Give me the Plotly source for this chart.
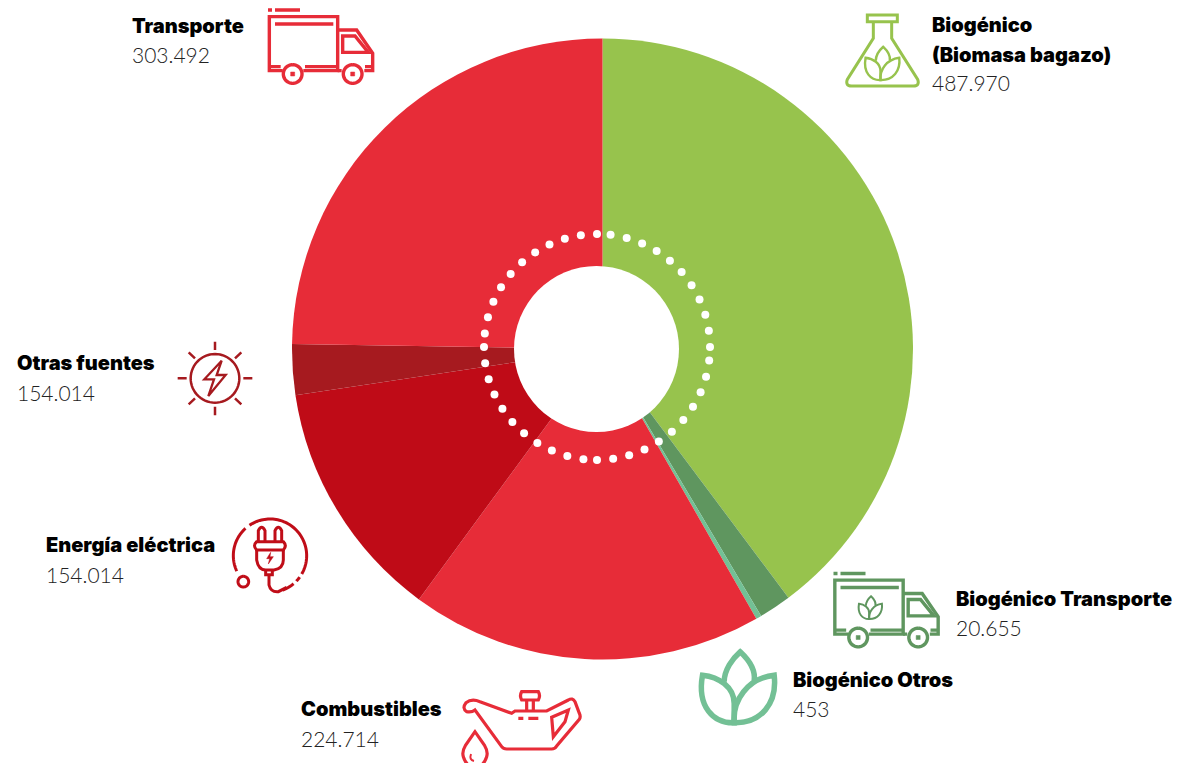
import re
import numpy as np
import plotly.graph_objects as go

# Data
categories = ['Biogénico (Biomasa bagazo)', 'Biogénico Transporte', 'Biogénico Otros',
              'Combustibles', 'Energía eléctrica', 'Otras fuentes', 'Transporte']
# slice sizes as drawn in the picture (Otros and Otras fuentes don't follow their printed labels)
slice_values = [487970, 20655, 3500, 224714, 154014, 32300, 303492]
slice_colors = ['#97C34D', '#5F965F', '#73C095', '#E72C38', '#BF0B17', '#A61A1F', '#E72C38']

label_titles = ['Transporte', 'Biogénico', '(Biomasa bagazo)', 'Otras fuentes', 'Energía eléctrica',
                'Combustibles', 'Biogénico Transporte', 'Biogénico Otros']
label_numbers = ['303.492', '487.970', '154.014', '154.014', '224.714', '20.655', '453']

W, H = 1193, 763
RED, DARK_RED, DARKEST = '#E72C38', '#C00D18', '#A61A1F'
GREEN, DARK_GREEN, TEAL = '#97C34D', '#5F965F', '#73C095'

fig = go.Figure()

fig.add_trace(go.Pie(
    labels=categories, values=slice_values, sort=False, direction='clockwise', rotation=0,
    marker=dict(colors=slice_colors, line=dict(width=0)),
    textinfo='none', hoverinfo='label+value', showlegend=False,
    domain=dict(x=[(602.5 - 310.5) / W, (602.5 + 310.5) / W], y=[1 - (349 + 311) / H, 1 - (349 - 311) / H]),
))
# empty trace so the hidden pixel axes exist for the shapes
fig.add_trace(go.Scatter(x=[], y=[], showlegend=False, hoverinfo='skip'))

shapes = []


def tf(path, ox, oy, s=1 / 3):
    nums = iter(range(100000))

    def rep(m):
        i = next(nums)
        v = float(m.group(0))
        return f'{ox + v * s:.2f}' if i % 2 == 0 else f'{oy + v * s:.2f}'
    return re.sub(r'-?\d+\.?\d*', rep, path)


def arc(cx, cy, r, a0=0, a1=360, first='M'):
    a = np.radians(np.linspace(a0, a1, 61))
    pts = [f'{cx + r * np.sin(t):.2f},{cy - r * np.cos(t):.2f}' for t in a]
    return f'{first}{pts[0]} ' + ' '.join('L' + p for p in pts[1:])


def add(path, ox, oy, color, width=3.0, fill=None, s=1 / 3):
    shapes.append(dict(type='path', xref='x', yref='y', path=tf(path, ox, oy, s),
                       line=dict(color=color, width=width),
                       fillcolor=fill if fill else 'rgba(0,0,0,0)'))


def truck(ox, oy, color):
    add('M444,30 L456,30 M465,30 L540,30', ox, oy, color, 3.6)
    add('M488,212 L448,212 L448,50 L653,50 L653,212 L550,212', ox, oy, color, 3.4)
    add('M448,200 L482,200 M555,200 L653,200 M465,72 L640,72', ox, oy, color, 3.4)
    add('M653,90 L710,90 L758,160 L758,212 L733,212 M735,200 L758,200 M653,212 L665,212', ox, oy, color, 3.4)
    add('M668,108 L705,108 L745,157 L668,157 Z', ox, oy, color, 3.4)
    for cx in [518, 698]:
        add(arc(cx, 222, 28), ox, oy, color, 3.4)
        add(f'M{cx - 6},216 L{cx + 6},216 L{cx + 6},228 L{cx - 6},228 Z', ox, oy, color, 0.5, fill=color)


def leaf(cx, cy, s, color, width):
    # drawn around the point where the three petals meet
    k = s / 3
    add('M-108,-40 C-60,-35 -13,-5 -13,45 L-13,103 C-75,105 -125,55 -108,-40 Z', cx, cy, color, width, s=k)
    add('M107,-40 C117,45 67,105 -13,103 C-18,35 27,-30 107,-40 Z', cx, cy, color, width, s=k)
    add('M-43,-20 C-43,-55 -18,-90 5,-110 C32,-85 52,-55 47,-22', cx, cy, color, width, s=k)


# Transporte truck
truck(120, 0, RED)
# Biogénico Transporte truck (same drawing, moved)
truck(685.5, 563.5, DARK_GREEN)
leaf(870.5, 608, 0.32, DARK_GREEN, 2)

# flask
add('M112,45 L202,45 L202,65 L112,65 Z', 830, 0, GREEN, 3)
add('M130,65 L130,115 L52,238 Q45,258 65,258 L250,258 Q270,258 263,238 L185,115 L185,65', 830, 0, GREEN, 3)
leaf(882.5, 64, 0.47, GREEN, 2.4)

# big leaf
leaf(738.5, 688.5, 1, TEAL, 5.5)

# sun with bolt
add(arc(645, 115, 73), 0, 340, DARKEST, 2.5)
add('M645,5 L645,30 M645,200 L645,226 M533,115 L560,115 M730,115 L757,115 '
    'M566,37 L585,55 M724,37 L705,55 M566,193 L585,175 M724,193 L705,175', 0, 340, DARKEST, 2.5)
add('M665,62 L613,118 L642,118 L625,168 L677,105 L650,105 Z', 0, 340, DARKEST, 2.3)

# plug
add(arc(810, 647, 110, 245, 318), 0, 340, DARK_RED, 3)
add(arc(810, 647, 110, 326, 480), 0, 340, DARK_RED, 3)
add(arc(810, 647, 110, 486, 494), 0, 340, DARK_RED, 3)
add(arc(810, 647, 110, 500, 520), 0, 340, DARK_RED, 3)
add(arc(730, 725, 16), 0, 340, DARK_RED, 3)
add('M775,605 L775,572 Q785,552 795,572 L795,605 M825,605 L825,572 Q835,552 845,572 L845,605', 0, 340, DARK_RED, 3)
add('M770,605 L850,605 Q862,617 850,630 L770,630 Q757,617 770,605 Z', 0, 340, DARK_RED, 3)
add('M770,630 L770,660 Q775,690 797,690 L822,690 Q850,685 850,660 L850,630', 0, 340, DARK_RED, 3)
add('M797,690 L797,704 L817,704 L817,690 M807,704 L807,735 Q812,757 835,755 L860,742', 0, 340, DARK_RED, 3)
add('M812,637 L800,656 L809,656 L805,672 L820,650 L810,650 Z', 0, 340, DARK_RED, 0.5, fill=DARK_RED)

# oil can
add('M665,100 L570,65 Q545,55 528,68 Q515,85 530,95 Q545,98 555,90 L635,200 Q640,207 650,207 L785,207 '
    'Q795,207 800,198 L868,118 Q873,110 868,100 L855,65 Q848,52 835,60 L770,93 L675,93 Z', 290, 680, RED, 3.2)
add('M785,112 L835,90 L825,125 L790,170 Z', 290, 680, RED, 3.2)
add('M695,35 L745,35 Q752,47 745,60 L695,60 Q688,47 695,35 Z', 290, 680, RED, 3.2)
add('M710,60 L710,93 M730,60 L730,93 M685,115 L700,115 M715,115 L745,115', 290, 680, RED, 3.2)
add('M555,155 L527,195 Q515,215 520,230 Q530,262 555,262 Q580,262 590,230 Q595,215 583,195 Z', 290, 680, RED, 3.2)
add('M543,222 Q537,240 552,243', 290, 680, RED, 2)

# hole sits a little left of the pie centre, like the reference
shapes.append(dict(type='circle', xref='x', yref='y', x0=514, x1=679, y0=266, y1=432,
                   fillcolor='white', line=dict(width=0)))

# ring of white dots, 11 per quadrant
dot_angles = []
for q in [0, 90, 180, 270]:
    dot_angles.append(q)
    dot_angles += [q + 6.9 + 8.32 * k for k in range(10)]
for a in dot_angles:
    cx = 597 + 113 * np.sin(np.radians(a))
    cy = 347 - 113 * np.cos(np.radians(a))
    shapes.append(dict(type='circle', xref='x', yref='y', x0=cx - 4, x1=cx + 4, y0=cy - 4, y1=cy + 4,
                       fillcolor='white', line=dict(width=0)))

# text
title_pos = [(129.5, 25.5), (929.5, 24.5), (929.5, 54.5), (14.5, 362.5), (43.5, 544.5), (298.5, 708.5),
             (953.5, 598.5), (790.5, 679.5)]
number_pos = [(129.5, 54), (929.5, 82), (14.5, 392), (43.5, 574), (298.5, 738), (953.5, 627), (790.5, 708)]
annotations = []
for t, (x, y) in zip(label_titles, title_pos):
    annotations.append(dict(text=t, x=x, y=y, xref='x', yref='y', xanchor='left', yanchor='middle',
                            showarrow=False, font=dict(family='Inter', size=20, color='black', weight=900)))
for t, (x, y) in zip(label_numbers, number_pos):
    annotations.append(dict(text=t, x=x, y=y, xref='x', yref='y', xanchor='left', yanchor='middle',
                            showarrow=False, font=dict(family='Lato', size=21, color='#222222', weight=300)))

fig.update_layout(
    width=W, height=H, margin=dict(l=0, r=0, t=0, b=0),
    paper_bgcolor='white', plot_bgcolor='white', showlegend=False,
    xaxis=dict(range=[0, W], visible=False, fixedrange=True),
    yaxis=dict(range=[H, 0], visible=False, fixedrange=True),
    shapes=shapes, annotations=annotations,
)

# drop the browser's default page margin so the chart starts at 0,0
fig.write_html('out.html', config=dict(displayModeBar=False),
               post_script="document.body.style.margin='0';document.body.style.overflow='hidden';")
